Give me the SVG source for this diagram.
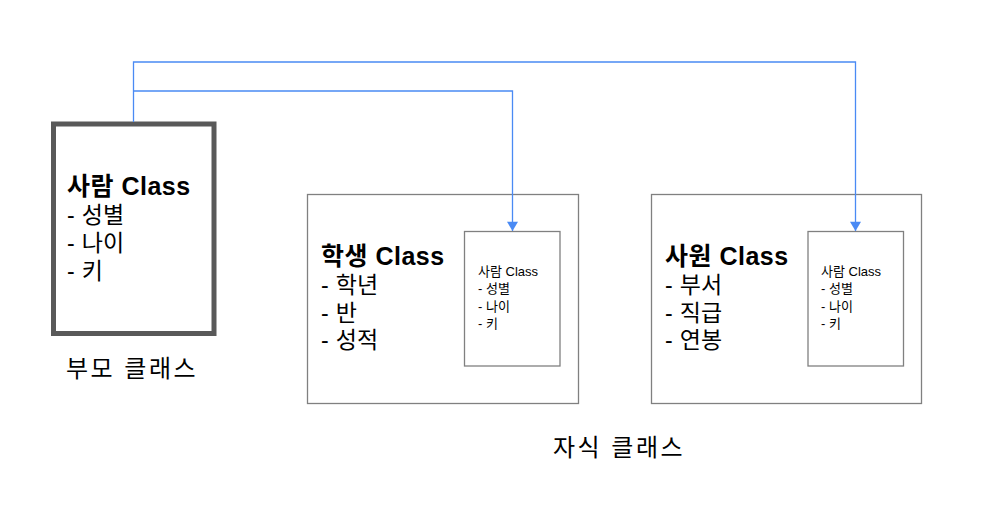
<svg xmlns="http://www.w3.org/2000/svg" width="984" height="520" viewBox="0 0 984 520">
<defs>
<style>
text{font-family:"Liberation Sans","Noto Sans CJK KR",sans-serif;fill:#000}
.title{font-size:25px;font-weight:bold;letter-spacing:0.5px}
.item{font-size:23px;letter-spacing:0.3px}
.small{font-size:13px}
.label{font-size:24px;letter-spacing:2.5px}
.box{fill:#fff;stroke:#808080;stroke-width:1.3}
.conn{fill:none;stroke:#4a8af4;stroke-width:1.3}
</style>
<marker id="arr" viewBox="0 0 10 12" refX="10" refY="6" markerWidth="12" markerHeight="11" markerUnits="userSpaceOnUse" orient="auto">
<path d="M0,0 L10,6 L0,12 Z" fill="#4a8af4"/>
</marker>
</defs>
<rect width="984" height="520" fill="#fff"/>
<g id="parent">
<rect x="53.5" y="124" width="160.5" height="209.5" fill="#fff" stroke="#595959" stroke-width="5"/>
<text class="title" x="67" y="195">사람 Class</text>
<text class="item" x="67" y="223">- 성별</text>
<text class="item" x="67" y="251">- 나이</text>
<text class="item" x="67" y="279">- 키</text>
</g>
<text class="label" x="66" y="377">부모 클래스</text>
<g id="student">
<rect class="box" x="307.5" y="194.5" width="271" height="209"/>
<text class="title" x="321" y="265">학생 Class</text>
<text class="item" x="321" y="293">- 학년</text>
<text class="item" x="321" y="320.5">- 반</text>
<text class="item" x="321" y="348">- 성적</text>
</g>
<g id="student-inner">
<rect class="box" x="464.5" y="231.5" width="95.5" height="134.5"/>
<text class="small" x="478" y="276">사람 Class</text>
<text class="small" x="478" y="293">- 성별</text>
<text class="small" x="478" y="311">- 나이</text>
<text class="small" x="478" y="328">- 키</text>
</g>
<g id="employee">
<rect class="box" x="651.5" y="194.5" width="270" height="209"/>
<text class="title" x="665" y="265">사원 Class</text>
<text class="item" x="665" y="293">- 부서</text>
<text class="item" x="665" y="320.5">- 직급</text>
<text class="item" x="665" y="348">- 연봉</text>
</g>
<g id="employee-inner">
<rect class="box" x="808" y="231.5" width="95.5" height="134.5"/>
<text class="small" x="821" y="276">사람 Class</text>
<text class="small" x="821" y="293">- 성별</text>
<text class="small" x="821" y="311">- 나이</text>
<text class="small" x="821" y="328">- 키</text>
</g>
<text class="label" x="553" y="456">자식 클래스</text>
<g id="connectors">
<path class="conn" d="M133.5 122 V62 H855.5 V231" marker-end="url(#arr)"/>
<path class="conn" d="M133.5 91 H512.5 V231" marker-end="url(#arr)"/>
</g>
</svg>
